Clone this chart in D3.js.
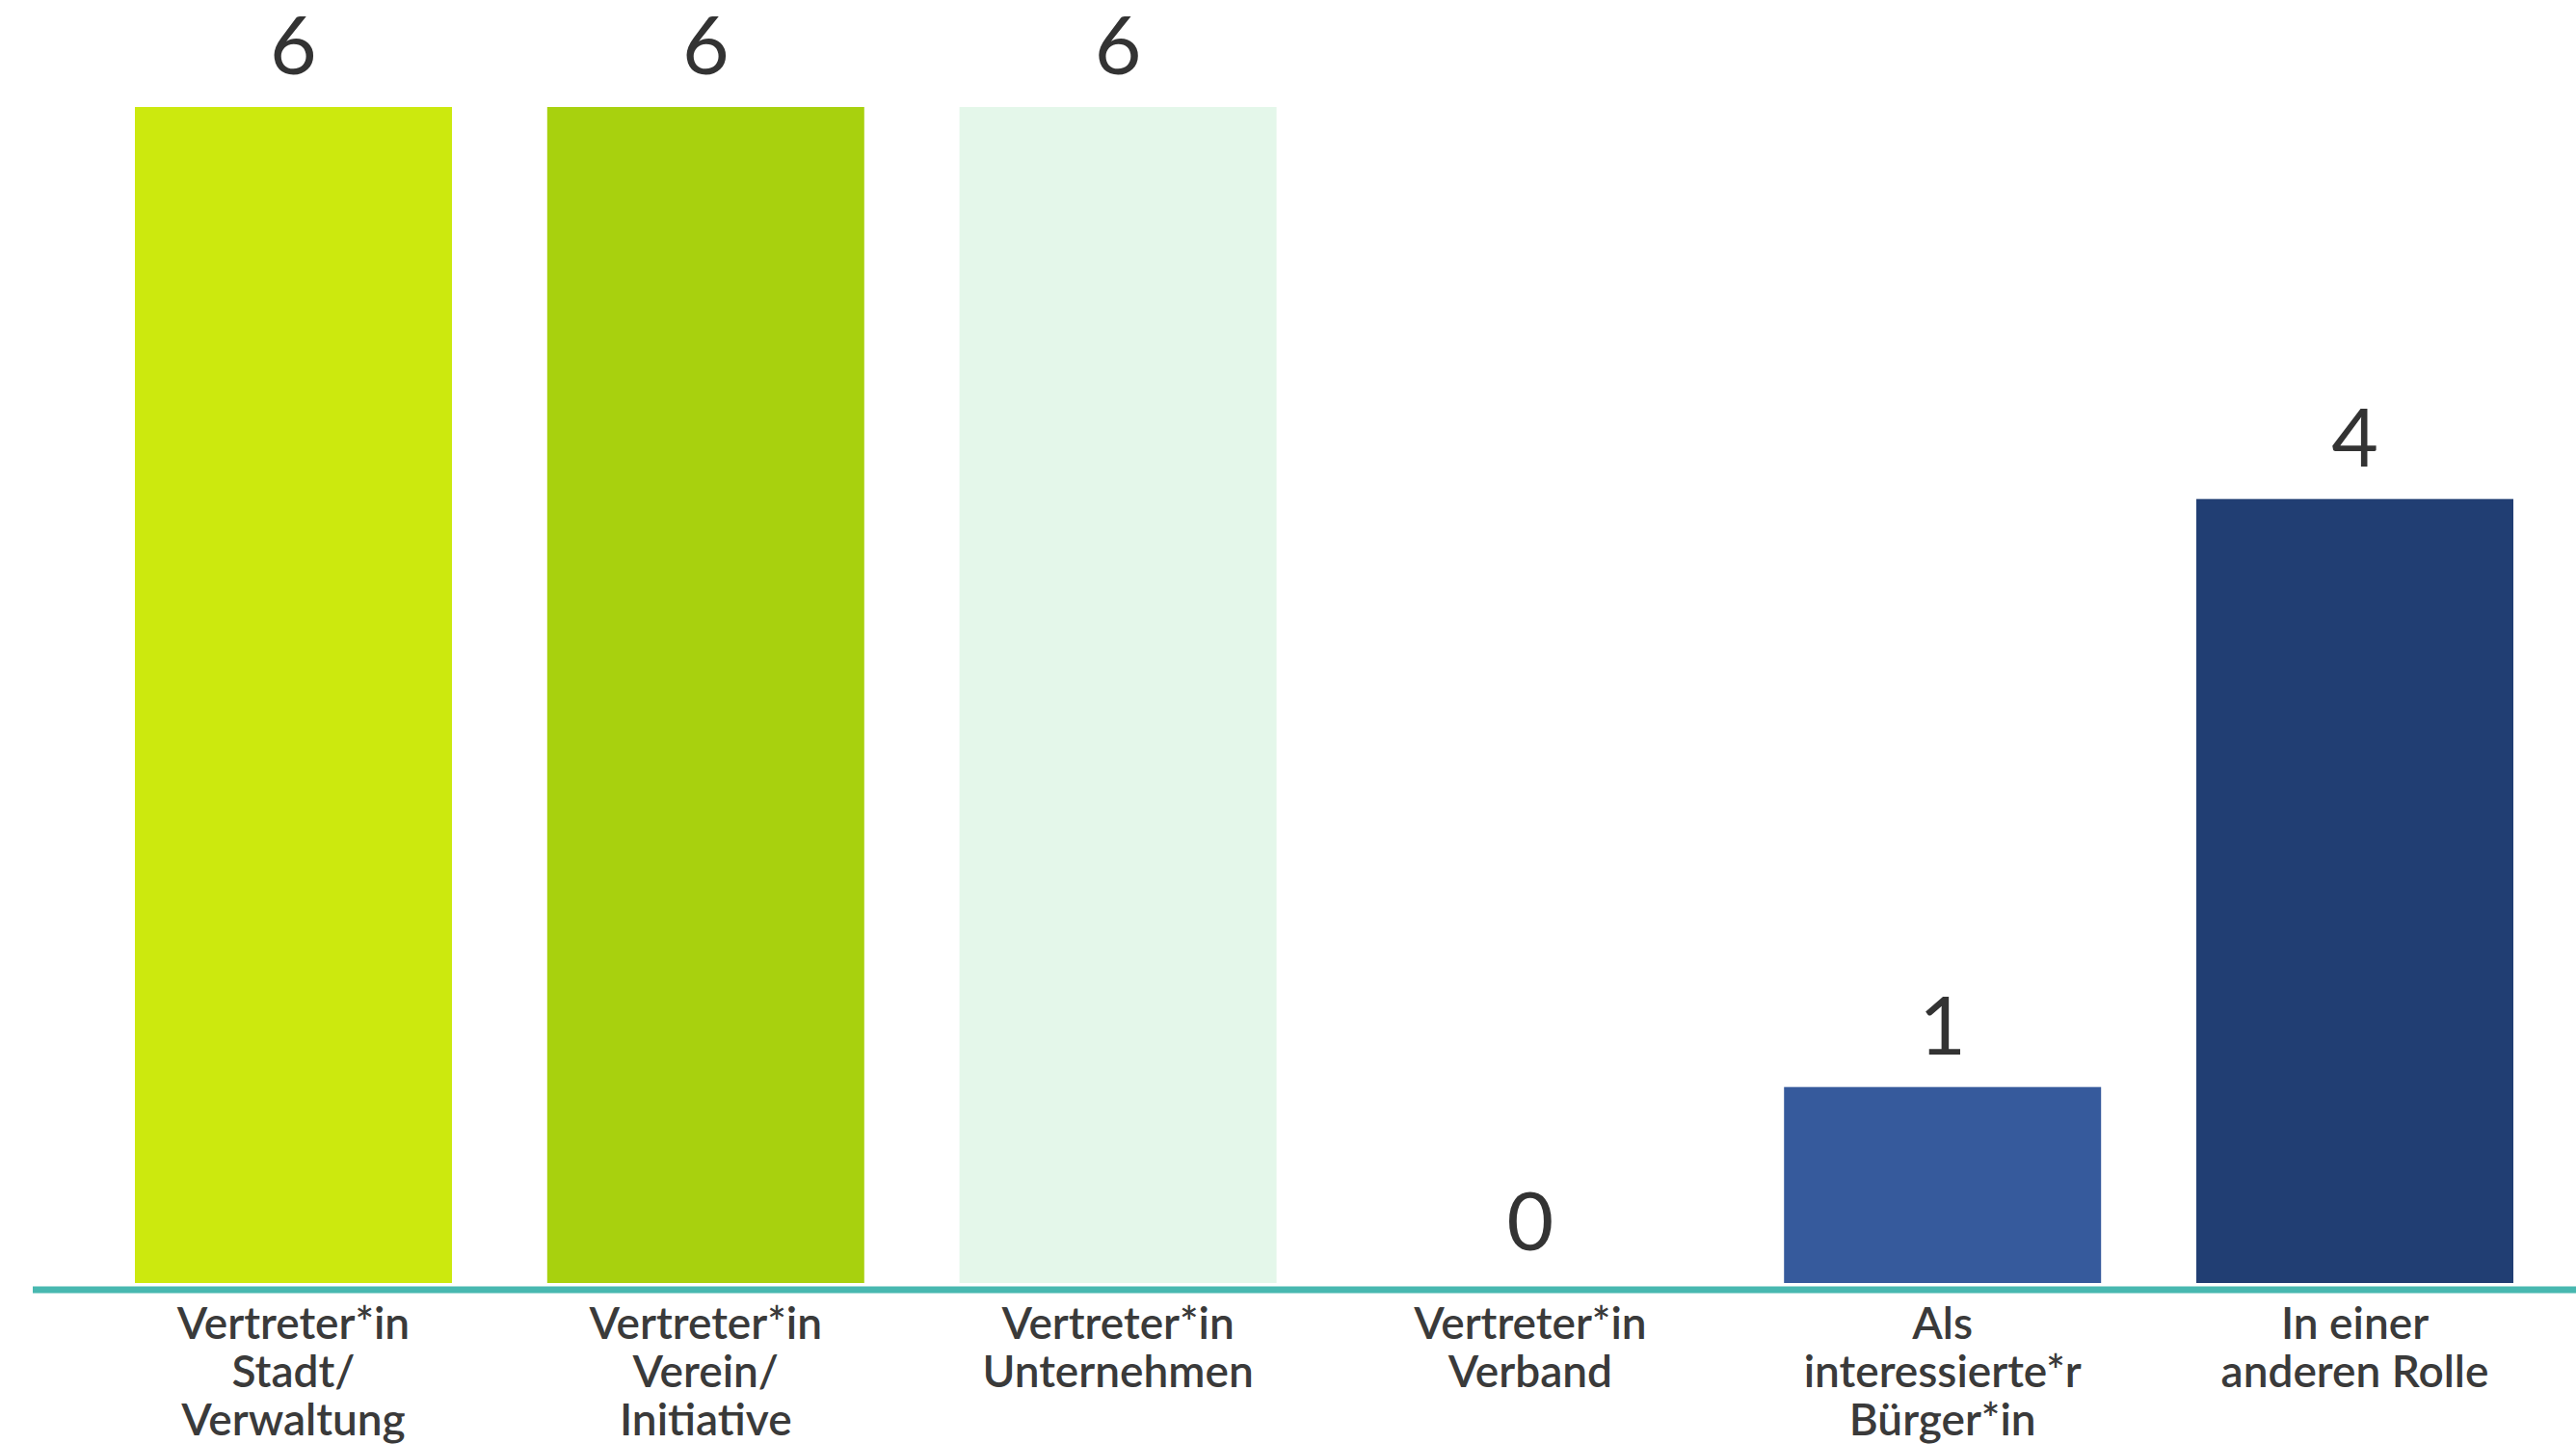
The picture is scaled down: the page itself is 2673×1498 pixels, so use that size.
<!DOCTYPE html>
<html>
<head>
<meta charset="utf-8">
<script src="https://cdn.jsdelivr.net/npm/d3@7"></script>
<style>
    body { margin: 0; background: #fff; }
    svg { display: block; }
    .value { font-family: Lato, sans-serif; font-size: 84px; fill: #333; }
    .cat { font-family: Lato, sans-serif; font-size: 46px; font-weight: 600; fill: #3a3a3a; }
</style>
</head>
<body>
<div id="chart"></div>
<script>
// Data
const categories = [
    ['Vertreter*in', 'Stadt/', 'Verwaltung'],
    ['Vertreter*in', 'Verein/', 'Initiative'],
    ['Vertreter*in', 'Unternehmen'],
    ['Vertreter*in', 'Verband'],
    ['Als', 'interessierte*r', 'Bürger*in'],
    ['In einer', 'anderen Rolle']
];
const values = [6, 6, 6, 0, 1, 4];
const colors = ['#cce90e', '#a8d10e', '#e4f7ea', '#cfd8e6', '#365a9c', '#213e73'];

const width = 2673;
const height = 1498;

const svg = d3.select('#chart')
    .append('svg')
    .attr('width', width)
    .attr('height', height);

const x = d3.scaleBand()
    .domain(d3.range(values.length))
    .range([140, 2608])
    .paddingInner(0.231)
    .paddingOuter(0);

const y = d3.scaleLinear()
    .domain([0, 6])
    .range([1331, 111]);

// Bars
svg.append('g')
    .selectAll('rect')
    .data(values)
    .enter()
    .append('rect')
    .attr('x', (d, i) => x(i))
    .attr('y', d => y(d))
    .attr('width', x.bandwidth())
    .attr('height', d => y(0) - y(d))
    .attr('fill', (d, i) => colors[i]);

// Baseline
svg.append('line')
    .attr('x1', 34)
    .attr('x2', width)
    .attr('y1', y(0) + 7)
    .attr('y2', y(0) + 7)
    .attr('stroke', '#48b8b0')
    .attr('stroke-width', 7);

// Value labels
svg.append('g')
    .selectAll('text')
    .data(values)
    .enter()
    .append('text')
    .attr('class', 'value')
    .attr('x', (d, i) => x(i) + x.bandwidth() / 2)
    .attr('y', d => y(d) - 34)
    .attr('text-anchor', 'middle')
    .text(d => d);

// Category labels
const cat = svg.append('g')
    .selectAll('text')
    .data(categories)
    .enter()
    .append('text')
    .attr('class', 'cat')
    .attr('text-anchor', 'middle')
    .attr('x', (d, i) => x(i) + x.bandwidth() / 2)
    .attr('y', 1389);

cat.selectAll('tspan')
    .data(d => d)
    .enter()
    .append('tspan')
    .attr('x', function() { return d3.select(this.parentNode).attr('x'); })
    .attr('dy', (d, i) => i === 0 ? 0 : 50)
    .text(d => d);
</script>
</body>
</html>
